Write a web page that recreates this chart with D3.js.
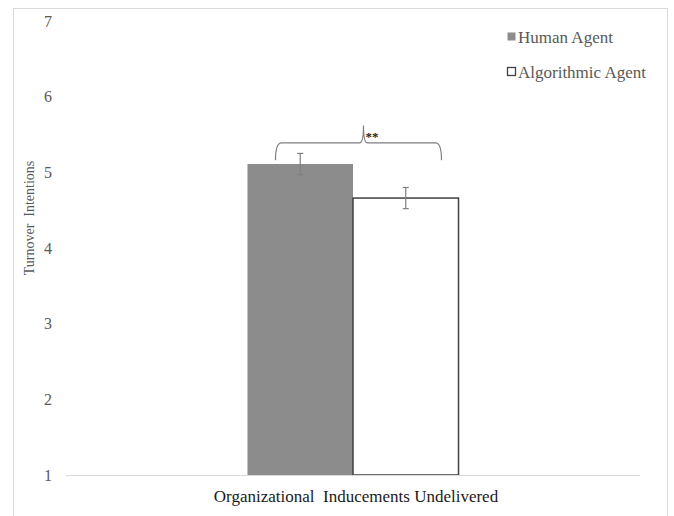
<!DOCTYPE html>
<html>
<head>
<meta charset="utf-8">
<script src="https://cdn.jsdelivr.net/npm/d3@7/dist/d3.min.js"></script>
<style>
  html, body { margin: 0; padding: 0; background: #fff; }
  svg { display: block; }
  svg text { font-family: 'Liberation Serif', 'Times New Roman', serif; }
</style>
</head>
<body>
<svg id="chart" width="674" height="516"></svg>
<script>
// Mean turnover intentions by agent type, with standard errors
const categories = ["Organizational  Inducements Undelivered"];
const seriesNames = ["Human Agent", "Algorithmic Agent"];
const means = [5.11, 4.66];
const errors = [0.14, 0.14];
const yTicks = [1, 2, 3, 4, 5, 6, 7];
const significance = "**";

const SERIF = "'Liberation Serif', 'Times New Roman', serif";
const svg = d3.select("#chart").attr("font-family", SERIF);

// outer frame
svg.append("rect")
  .attr("x", 13.5).attr("y", 8.5)
  .attr("width", 654).attr("height", 530)
  .attr("fill", "#fff").attr("stroke", "#d9d9d9").attr("stroke-width", 1);

const plotLeft = 66, plotRight = 640;
const y = d3.scaleLinear().domain([1, 7]).range([475, 21]);

const x0 = d3.scaleBand().domain(categories).range([plotLeft, plotRight])
  .paddingInner(0).paddingOuter(0.86);
const x1 = d3.scaleBand().domain(seriesNames).range([0, x0.bandwidth()]).padding(0);

const fills = ["#8c8c8c", "#ffffff"];
const strokes = ["none", "#404040"];

// y axis labels (no line, no ticks)
const yAxis = d3.axisLeft(y).tickValues(yTicks).tickSize(0).tickPadding(14)
  .tickFormat(d3.format("d"));
const gy = svg.append("g").attr("transform", `translate(${plotLeft},0)`).call(yAxis)
  .attr("font-family", SERIF).attr("font-size", 16);
gy.select(".domain").remove();
gy.selectAll("text").attr("fill", "#595959");

// bars
const group = svg.append("g").attr("transform", `translate(${x0(categories[0])},0)`);
group.selectAll("rect.bar").data(seriesNames).join("rect")
  .attr("class", "bar")
  .attr("x", d => x1(d))
  .attr("y", (d, i) => y(means[i]))
  .attr("width", x1.bandwidth())
  .attr("height", (d, i) => y(1) - y(means[i]))
  .attr("fill", (d, i) => fills[i])
  .attr("stroke", (d, i) => strokes[i])
  .attr("stroke-width", 1.5);

// baseline
svg.append("line")
  .attr("x1", plotLeft).attr("x2", plotRight)
  .attr("y1", y(1) + 0.5).attr("y2", y(1) + 0.5)
  .attr("stroke", "#d9d9d9").attr("stroke-width", 1.2);

// error bars
const cap = 3;
seriesNames.forEach((s, i) => {
  const cx = x0(categories[0]) + x1(s) + x1.bandwidth() / 2;
  const g = svg.append("g").attr("stroke", "#7f7f7f").attr("stroke-width", 1.2);
  g.append("line").attr("x1", cx).attr("x2", cx)
    .attr("y1", y(means[i] + errors[i])).attr("y2", y(means[i] - errors[i]));
  g.append("line").attr("x1", cx - cap).attr("x2", cx + cap)
    .attr("y1", y(means[i] + errors[i])).attr("y2", y(means[i] + errors[i]));
  g.append("line").attr("x1", cx - cap).attr("x2", cx + cap)
    .attr("y1", y(means[i] - errors[i])).attr("y2", y(means[i] - errors[i]));
});

// significance bracket
const gx = x0(categories[0]);
const bL = gx + 28, bR = gx + x0.bandwidth() - 17, bM = gx + 116;
const yTip = y(5.16), yBar = y(5.39), yPeak = y(5.62);
const p = d3.path();
p.moveTo(bL, yTip);
p.quadraticCurveTo(bL, yBar, bL + 6, yBar);
p.lineTo(bM - 4, yBar);
p.quadraticCurveTo(bM, yBar, bM, yPeak);
p.quadraticCurveTo(bM, yBar, bM + 4, yBar);
p.lineTo(bR - 6, yBar);
p.quadraticCurveTo(bR, yBar, bR, yTip);
svg.append("path").attr("d", p.toString())
  .attr("fill", "none").attr("stroke", "#7f7f7f").attr("stroke-width", 1.2);
svg.append("text")
  .attr("x", bM + 2).attr("y", y(5.39) - 2)
  .attr("fill", "#222").attr("font-size", 13).attr("font-weight", "bold")
  .text(significance);

// x category label
svg.append("text")
  .attr("x", x0(categories[0]) + x0.bandwidth() / 2 + 3)
  .attr("y", 502)
  .attr("text-anchor", "middle")
  .attr("fill", "#1a1a1a")
  .attr("font-size", 17)
  .style("white-space", "pre")
  .text(categories[0]);

// y title
svg.append("text")
  .attr("transform", `translate(34,218) rotate(-90)`)
  .attr("text-anchor", "middle")
  .attr("fill", "#595959")
  .attr("font-size", 14)
  .style("white-space", "pre")
  .text("Turnover  Intentions");

// legend
const legend = svg.append("g");
seriesNames.forEach((s, i) => {
  const ly = 37 + i * 35;
  legend.append("rect")
    .attr("x", 507.5).attr("y", ly - 4.5)
    .attr("width", 8).attr("height", 8)
    .attr("fill", fills[i])
    .attr("stroke", i === 0 ? "none" : "#404040")
    .attr("stroke-width", 1.3);
  legend.append("text")
    .attr("x", 518).attr("y", ly + 5.5)
    .attr("fill", "#595959")
    .attr("font-size", 17)
    .text(s);
});
</script>
</body>
</html>
